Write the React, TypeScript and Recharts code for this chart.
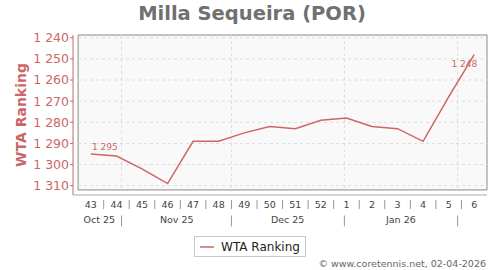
import React from "react";
import {
  LineChart, Line, XAxis, YAxis, ReferenceArea, ReferenceLine,
  Legend, LabelList,
} from "recharts";

// weekly WTA ranking, week 43 (2025) .. week 6 (2026)
const weeks = ["43", "44", "45", "46", "47", "48", "49", "50", "51", "52", "1", "2", "3", "4", "5", "6"];
const ranking = [1295, 1296, 1302, 1309, 1289, 1289, 1285, 1282, 1283, 1279, 1278, 1282, 1283, 1289, 1268, 1248];

const monthLabels = ["Oct 25", "Nov 25", "Dec 25", "Jan 26"];
const monthCenters = [0.33, 3.36, 7.7, 12.13];
const monthStarts = [1.2, 5.5, 9.92, 14.35];

const yTicks = [1240, 1250, 1260, 1270, 1280, 1290, 1300, 1310];

const X_DOMAIN: [number, number] = [-0.7, 15.5];
const Y_DOMAIN: [number, number] = [1238.7, 1314.4];
const BOX = { x1: -0.5, x2: 15.5, y1: 1238.7, y2: 1312 };

const data = ranking.map((rank, i) => ({ idx: i, week: weeks[i], rank }));

const W = 500, H = 270;
const M = { top: 35, right: 13, left: 0, bottom: 39 };
const Y_W = 73;
const SLOT = (W - M.right - Y_W) / (X_DOMAIN[1] - X_DOMAIN[0]);

const RED = "#cc6666";
const LINE = "#d06464";
const FONT = "'DejaVu Sans', sans-serif";

const fmt = (v: number) => String(v).replace(/\B(?=(\d{3})+(?!\d))/g, " ");

const WeekTick = (props: any) => {
  const { x, y, payload, index } = props;
  return (
    <g>
      <text x={x} y={y + 6.5} dy="0.71em" textAnchor="middle" fontSize={9.5} fill="#444" fontFamily={FONT}>
        {weeks[payload.value]}
      </text>
      {index < weeks.length - 1 && (
        <line x1={x + SLOT / 2} x2={x + SLOT / 2} y1={y + 5} y2={y + 14} stroke="#999" />
      )}
    </g>
  );
};

const MonthTick = (props: any) => {
  const { x, y, payload } = props;
  const i = monthCenters.indexOf(payload.value);
  if (i < 0) return <line x1={x} x2={x} y1={y + 4.5} y2={y + 15.5} stroke="#999" />;
  return (
    <text x={x} y={y + 5.5} dy="0.71em" textAnchor="middle" fontSize={9.5} fill="#444" fontFamily={FONT}>
      {monthLabels[i]}
    </text>
  );
};

const PointLabel = (props: any) => {
  const { x, y, index, value } = props;
  const style = { fontSize: 9, fill: RED, fontFamily: FONT };
  if (index === 0)
    return <text x={x + 1} y={y - 4} textAnchor="start" style={style}>{fmt(value)}</text>;
  if (index === ranking.length - 1)
    return <text x={x + 3} y={y + 12} textAnchor="end" style={style}>{fmt(value)}</text>;
  return null;
};

const LegendBox = () => (
  <div style={{ display: "flex", justifyContent: "center" }}>
    <div style={{
      border: "1px solid #c8c8c8", height: 19, display: "flex", alignItems: "center",
      padding: "0 5px 0 4px", fontFamily: FONT, fontSize: 12, color: "#222", background: "#fff",
    }}>
      <svg width={18} height={6} style={{ marginRight: 4 }}>
        <line x1={1} y1={3} x2={15} y2={3} stroke={LINE} strokeWidth={1.5} />
      </svg>
      <span>WTA Ranking</span>
    </div>
  </div>
);

export default function App() {
  return (
    <div style={{ position: "absolute", left: 0, top: 0, width: W, height: H, background: "#fff", fontFamily: FONT }}>
      <div style={{
        position: "absolute", top: 2, left: 2, width: W, textAlign: "center",
        fontSize: 19.5, fontWeight: "bold", color: "#707070",
      }}>
        Milla Sequeira (POR)
      </div>
      <LineChart width={W} height={H} data={data} margin={M}>
        <ReferenceArea x1={BOX.x1} x2={BOX.x2} y1={BOX.y1} y2={BOX.y2} fill="#f9f9f9" fillOpacity={1} stroke="#888" strokeWidth={1} />
        {yTicks.map((t) => (
          <ReferenceLine key={"h" + t} segment={[{ x: BOX.x1, y: t }, { x: BOX.x2, y: t }]} stroke="#dcdcdc" strokeDasharray="3 3" />
        ))}
        {monthStarts.map((m) => (
          <ReferenceLine key={"v" + m} segment={[{ x: m, y: BOX.y1 }, { x: m, y: BOX.y2 }]} stroke="#dcdcdc" strokeDasharray="3 3" />
        ))}
        <XAxis
          xAxisId={0} type="number" dataKey="idx" domain={X_DOMAIN} ticks={data.map((d) => d.idx)} interval={0}
          height={16} axisLine={{ stroke: "#aaa" }} tickLine={false} tickSize={0} tickMargin={0}
          tick={WeekTick} allowDataOverflow
        />
        <XAxis
          xAxisId="month" type="number" dataKey="idx" domain={X_DOMAIN} ticks={[...monthCenters, ...monthStarts]} interval={0}
          height={20} axisLine={false} tickLine={false} tickSize={0} tickMargin={0}
          tick={MonthTick} allowDataOverflow
        />
        <YAxis
          reversed width={Y_W} domain={Y_DOMAIN} ticks={yTicks} interval={0} allowDataOverflow
          axisLine={{ stroke: RED }} tickLine={{ stroke: RED }} tickSize={3} tickMargin={1}
          tickFormatter={fmt} tick={{ fontSize: 12.5, fill: RED, fontFamily: FONT }}
          label={{
            value: "WTA Ranking", angle: -90, position: "insideLeft", offset: 21,
            style: { textAnchor: "middle", fontSize: 14, fontWeight: "bold", fill: RED, fontFamily: FONT },
          }}
        />
        <Line type="linear" dataKey="rank" stroke={LINE} strokeWidth={1.5} dot={false} isAnimationActive={false} legendType="line">
          <LabelList dataKey="rank" content={PointLabel} />
        </Line>
        <Legend verticalAlign="middle" align="center" content={LegendBox} wrapperStyle={{ top: 236, left: 0, width: W }} />
      </LineChart>
      <div style={{ position: "absolute", right: 14, top: 258, fontSize: 9.5, color: "#666" }}>
        © www.coretennis.net, 02-04-2026
      </div>
    </div>
  );
}
